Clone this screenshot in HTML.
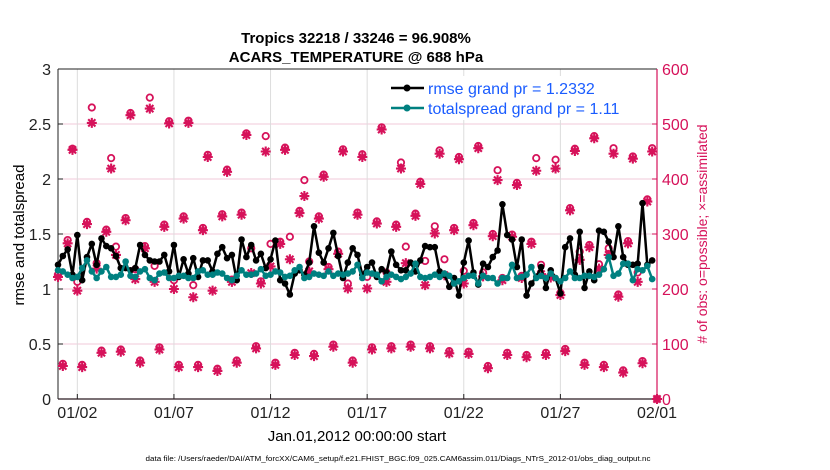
<!DOCTYPE html>
<html><head><meta charset="utf-8"><style>
html,body{margin:0;padding:0;background:#fff;}
svg{display:block;font-family:"Liberation Sans",Arial,sans-serif;}
</style></head><body>
<svg id="chart" width="830" height="470" viewBox="0 0 830 470">
<g id="grid"></g>
<g id="axes"></g>
<g id="obs"></g>
<g id="lines"></g>
<text x="356" y="43" text-anchor="middle" font-size="15" font-weight="bold">Tropics 32218 / 33246 = 96.908%</text>
<text x="356" y="62" text-anchor="middle" font-size="15" font-weight="bold">ACARS_TEMPERATURE @ 688 hPa</text>
<g>
<rect x="385" y="76" width="262" height="44" fill="#fff"/>
<line x1="391" y1="88" x2="424" y2="88" stroke="#000" stroke-width="2.5"/>
<circle cx="407" cy="88" r="3.5" fill="#000"/>
<text x="428" y="94" font-size="16" fill="#1a5cff">rmse grand pr = 1.2332</text>
<line x1="391" y1="108" x2="424" y2="108" stroke="#008080" stroke-width="2.5"/>
<circle cx="407" cy="108" r="3.5" fill="#008080"/>
<text x="428" y="114" font-size="16" fill="#1a5cff">totalspread grand pr = 1.11</text>
</g>
<text transform="translate(24,235) rotate(-90)" text-anchor="middle" font-size="15">rmse and totalspread</text>
<text transform="translate(707,234) rotate(-90)" text-anchor="middle" font-size="14" fill="#d6125a"># of obs: o=possible; ×=assimilated</text>
<text x="357" y="441" text-anchor="middle" font-size="15">Jan.01,2012 00:00:00 start</text>
<text x="398" y="461" text-anchor="middle" font-size="7" textLength="505" lengthAdjust="spacingAndGlyphs">data file: /Users/raeder/DAI/ATM_forcXX/CAM6_setup/f.e21.FHIST_BGC.f09_025.CAM6assim.011/Diags_NTrS_2012-01/obs_diag_output.nc</text>
</svg>
<script>
const rmse=[1.22,1.30,1.36,1.13,1.49,1.08,1.29,1.41,1.22,1.46,1.39,1.37,1.30,1.19,1.19,1.17,1.19,1.40,1.31,1.26,1.25,1.25,1.31,1.16,1.40,1.11,1.27,1.14,1.28,1.11,1.26,1.26,1.16,1.32,1.38,1.28,1.31,1.08,1.45,1.29,1.40,1.26,1.32,1.19,1.27,1.44,1.08,1.05,0.95,1.14,1.17,1.13,1.24,1.57,1.33,1.24,1.37,1.51,1.30,1.10,1.24,1.37,1.31,1.13,1.20,1.24,1.11,1.18,1.15,1.34,1.22,1.17,1.17,1.24,1.16,1.26,1.39,1.38,1.38,1.16,1.13,1.02,1.10,0.94,1.24,1.44,1.15,1.04,1.23,1.20,1.29,1.35,1.77,1.49,1.45,1.20,1.45,0.94,1.05,1.11,1.20,1.01,1.17,1.10,0.96,1.38,1.46,1.13,1.52,1.01,1.16,1.08,1.53,1.52,1.43,1.29,1.57,1.29,1.22,1.22,1.23,1.78,1.22,1.26];
const spread=[1.17,1.16,1.13,1.10,1.11,1.19,1.26,1.16,1.10,1.16,1.20,1.11,1.11,1.13,1.25,1.12,1.11,1.16,1.18,1.10,1.08,1.14,1.15,1.10,1.10,1.12,1.12,1.10,1.10,1.16,1.17,1.13,1.13,1.15,1.14,1.10,1.08,1.12,1.17,1.13,1.13,1.14,1.18,1.12,1.13,1.16,1.15,1.11,1.12,1.17,1.20,1.10,1.11,1.14,1.13,1.12,1.16,1.12,1.14,1.13,1.14,1.16,1.22,1.10,1.15,1.14,1.13,1.07,1.11,1.13,1.11,1.09,1.11,1.14,1.23,1.11,1.10,1.11,1.13,1.11,1.14,1.12,1.05,1.07,1.10,1.12,1.12,1.05,1.12,1.10,1.10,1.05,1.10,1.10,1.22,1.10,1.11,1.13,1.20,1.10,1.12,1.10,1.14,1.10,1.07,1.10,1.16,1.10,1.10,1.12,1.12,1.11,1.13,1.18,1.29,1.12,1.14,1.23,1.23,1.08,1.18,1.17,1.21,1.09];
const obsAssim=[222,60,283,453,197,58,318,502,237,84,304,419,262,86,325,516,218,66,274,528,213,90,313,501,200,58,328,502,185,58,307,440,197,51,332,413,213,66,335,480,229,92,210,450,241,62,282,453,254,80,338,369,232,78,328,404,236,95,264,450,201,66,335,440,201,90,319,490,213,92,313,419,247,95,333,391,207,92,301,446,225,83,307,436,210,82,316,456,223,56,296,398,216,80,295,389,220,76,282,415,227,80,221,419,189,87,343,451,253,62,276,474,237,58,262,446,186,48,283,437,213,65,359,450,0];
const obsPossible=[226,64,289,455,213,62,322,530,247,88,308,438,277,90,329,520,236,70,278,548,242,94,317,505,216,62,332,506,207,62,311,444,229,55,336,417,217,70,339,483,274,96,214,478,282,66,286,457,295,84,342,398,250,82,332,408,240,99,268,454,210,70,339,445,222,94,323,494,230,96,317,430,277,99,337,395,251,96,314,452,254,87,311,440,233,86,320,460,230,60,300,416,220,84,299,393,224,80,286,438,244,84,225,435,193,91,347,455,268,66,280,478,245,62,274,456,190,52,287,441,230,69,363,456,0];
const leftTicks=[0,0.5,1,1.5,2,2.5,3];
const leftTickLabels=["0","0.5","1","1.5","2","2.5","3"];
const rightTicks=[0,100,200,300,400,500,600];
const xTickDays=[1,6,11,16,21,26,31];
const xTickLabels=["01/02","01/07","01/12","01/17","01/22","01/27","02/01"];

const NS="http://www.w3.org/2000/svg";
const X0=58,X1=657,Y0=399,Y1=69;
const xScale=d=>X0+(X1-X0)*d/31;
const yL=v=>Y0-(Y0-Y1)*v/3;
const yR=v=>Y0-(Y0-Y1)*v/600;
const tDay=i=>i*0.25;
const RED="#d6125a";
function mk(tag,attrs,parent){const e=document.createElementNS(NS,tag);for(const k in attrs)e.setAttribute(k,attrs[k]);parent.appendChild(e);return e;}
const grid=document.getElementById('grid'),axes=document.getElementById('axes'),obsG=document.getElementById('obs'),lines=document.getElementById('lines');

leftTicks.forEach((v,k)=>{
  if(v>0){const g=mk('line',{x1:X0,x2:X1,y1:yL(v),y2:yL(v),stroke:"#f2c9da","stroke-width":1},grid);
  
  }
  mk('line',{x1:X0,x2:X0+5,y1:yL(v),y2:yL(v),stroke:"#222"},axes);
  const t=mk('text',{x:X0-7,y:yL(v)+6,"text-anchor":"end","font-size":16,fill:"#222"},axes);
  t.textContent=leftTickLabels[k];
  
  
});
rightTicks.forEach(v=>{
  mk('line',{x1:X1-5,x2:X1,y1:yR(v),y2:yR(v),stroke:RED},axes);
  const t=mk('text',{x:X1+5,y:yR(v)+6,"font-size":16,fill:RED},axes);
  t.textContent=String(v);
  
  
});
xTickDays.forEach((d,k)=>{
  const g=mk('line',{x1:xScale(d),x2:xScale(d),y1:Y1,y2:Y0,stroke:"#dcdcdc","stroke-width":1},grid);
  
  
  mk('line',{x1:xScale(d),x2:xScale(d),y1:Y0,y2:Y0-5,stroke:"#222"},axes);
  const t=mk('text',{x:xScale(d),y:Y0+19,"text-anchor":"middle","font-size":16,fill:"#222"},axes);
  t.textContent=xTickLabels[k];
  
  
});
mk('line',{x1:X0,x2:X0,y1:Y1,y2:Y0,stroke:"#222","stroke-width":1},axes);
mk('line',{x1:X0,x2:X1,y1:Y1,y2:Y1,stroke:"#222","stroke-width":1},axes);
mk('line',{x1:X0,x2:X1,y1:Y0,y2:Y0,stroke:"#2a1a22","stroke-width":1.2},axes);
mk('line',{x1:X1,x2:X1,y1:Y1,y2:Y0,stroke:RED,"stroke-width":1.2},axes);

obsPossible.forEach((v,i)=>{
  const c=mk('circle',{cx:xScale(tDay(i)),cy:yR(v),r:3.2,fill:"none",stroke:RED,"stroke-width":1.8},obsG);
  
  
});
obsAssim.forEach((v,i)=>{
  const x=xScale(tDay(i)),y=yR(v),s=5,d=3.6;
  const p=mk('path',{d:`M${x-s},${y}H${x+s}M${x},${y-s}V${y+s}M${x-d},${y-d}L${x+d},${y+d}M${x-d},${y+d}L${x+d},${y-d}`,stroke:RED,"stroke-width":2.1,fill:"none"},obsG);
  
  
});

function series(arr,color,name){
  const pts=arr.map((v,i)=>xScale(tDay(i)).toFixed(1)+","+yL(v).toFixed(1)).join(" ");
  const pl=mk('polyline',{points:pts,fill:"none",stroke:color,"stroke-width":2.5,"stroke-linejoin":"round"},lines);
  
  
  arr.forEach((v,i)=>{
    const c=mk('circle',{cx:xScale(tDay(i)),cy:yL(v),r:3.3,fill:color},lines);
    
    
  });
}
series(rmse,"#000","rmse");
series(spread,"#008080","totalspread");
</script>
</body></html>
